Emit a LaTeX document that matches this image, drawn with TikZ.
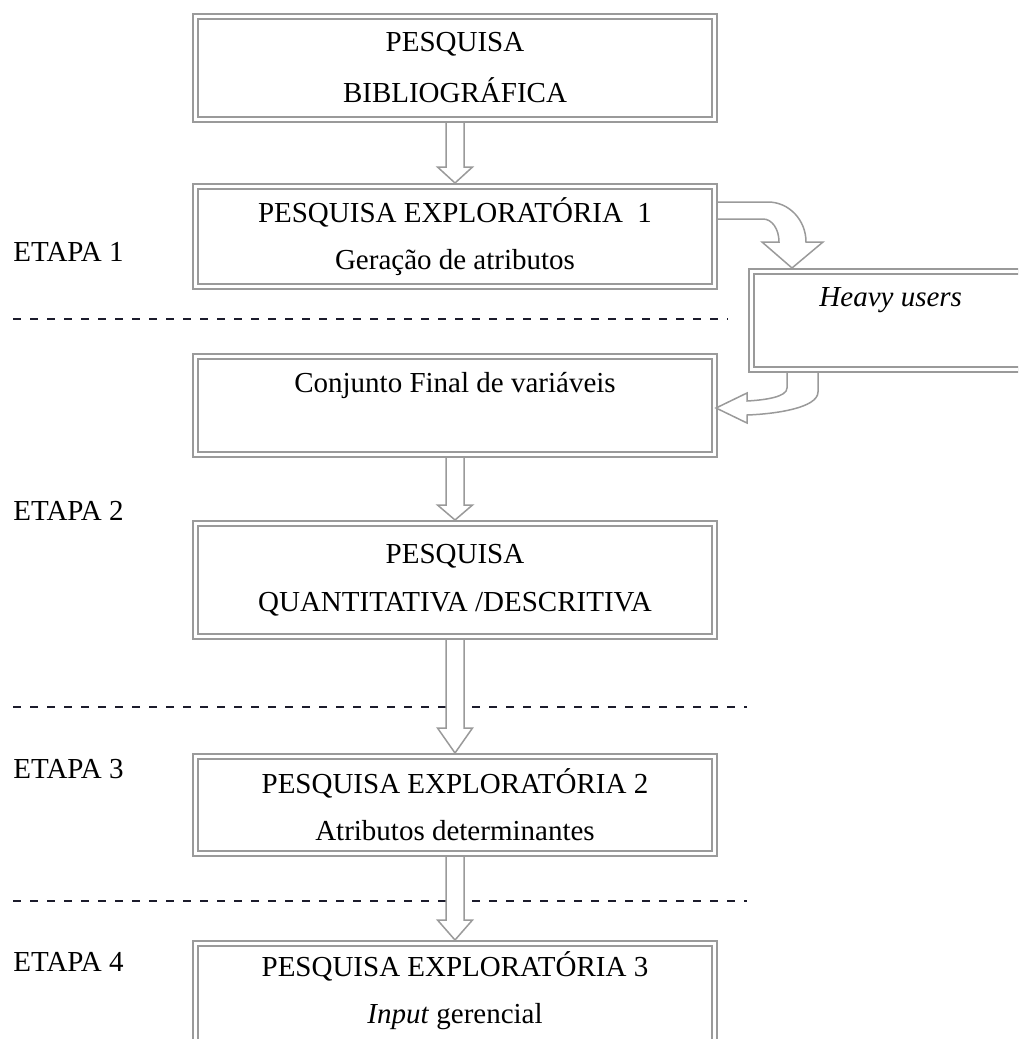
\documentclass[tikz,border=0pt]{standalone}
\usepackage{fontspec}
\setmainfont{Liberation Serif}
\usetikzlibrary{calc}
\definecolor{boxgray}{HTML}{9A9A9A}
\definecolor{dashc}{HTML}{1C1C2C}
\newcommand{\blockdown}[3]{%
  \draw[blockarrow] let \p1=($(#1.south)+(0,3.5)$), \p2=($(#2.north)+(0,-3.5)$) in
  (\x1-4.5pt,\y1) -- (\x1-4.5pt,\y2+#3) -- (\x1-8.75pt,\y2+#3) -- (\x1,\y2)
  -- (\x1+8.75pt,\y2+#3) -- (\x1+4.5pt,\y2+#3) -- (\x1+4.5pt,\y1);}
\begin{document}
\begin{tikzpicture}[x=0.5pt,y=-0.5pt,
  box/.style={draw=boxgray, double=white, line width=1pt, double distance=1.5pt,
    minimum width=259.5pt, inner sep=0pt, outer sep=0pt, align=center,
    font=\fontsize{14.5}{23.5}\selectfont},
  txt/.style={align=center, inner sep=0pt, font=\fontsize{14.5}{23.5}\selectfont},
  blockarrow/.style={draw=boxgray, fill=white, line width=0.75pt, line join=miter},
  sepline/.style={dashc, line width=1.35pt, dash pattern=on 4pt off 4.5pt},
  etapa/.style={anchor=base west, inner sep=0pt, font=\fontsize{14.5}{17}\selectfont}]
\useasboundingbox (0,0) rectangle (1018,1039);
\clip (0,0) rectangle (1018,1039);

% boxes
\node[box, minimum height=51.5pt, font=\fontsize{14.5}{25.5}\selectfont] (b1) at (455,68) {PESQUISA\\BIBLIOGRÁFICA};
\node[box, minimum height=50pt] (b2) at (455,236.5) {PESQUISA EXPLORATÓRIA\ \ 1\\Geração de atributos};
\node[box, minimum height=49pt] (b3) at (455,405.5) {Conjunto Final de variáveis\\~};
\node[box, minimum height=56.5pt, font=\fontsize{14.5}{24}\selectfont] (b4) at (455,580) {PESQUISA\\QUANTITATIVA /DESCRITIVA};
\node[box, minimum height=48.5pt] (b5) at (455,805) {PESQUISA EXPLORATÓRIA 2\\Atributos determinantes};
\node[box, minimum height=56pt] (b6) at (455,999.5) {};
\node[txt] (b6t) at (455,990.3) {PESQUISA EXPLORATÓRIA 3\\\textit{Input} gerencial};
\node[box, minimum width=139.25pt, minimum height=49pt] (hv) at (890.75,320.5) {\textit{Heavy users}\\~};

% stage labels
\node[etapa] (e1) at (13,261) {ETAPA 1};
\node[etapa] (e2) at (13,520) {ETAPA 2};
\node[etapa] (e3) at (13,778) {ETAPA 3};
\node[etapa] (e4) at (13,971) {ETAPA 4};

% separators
\draw[sepline] (13,319) -- (728,319);
\draw[sepline] (13,707) -- (747,707);
\draw[sepline] (13,901) -- (747,901);

% straight block arrows
\blockdown{b1}{b2}{8pt}
\blockdown{b3}{b4}{7.5pt}
\blockdown{b4}{b5}{12.5pt}
\blockdown{b5}{b6}{10pt}

% curved block arrows
\draw[blockarrow, shift={(b2.north east)}]
  (3.5,15.5) -- (53.5,15.5) .. controls (74.5,15.5) and (91.5,33.5) .. (91.5,55.5)
  -- (108.5,55.5) -- (77.5,81.5) -- (47.5,55.5) -- (64.5,55.5)
  .. controls (64.5,42.5) and (57.5,32.5) .. (48.5,32.5) -- (3.5,32.5);
\draw[blockarrow, shift={(hv.south west)}]
  (35.5,3.5) -- (35.5,18.5) .. controls (35.5,27.5) and (13.5,30.5) .. (-4.5,31.5)
  -- (-4.5,23.5) -- (-35.5,38.5) -- (-4.5,53.5) -- (-4.5,45.5)
  .. controls (23.5,44.5) and (66.5,38.5) .. (66.5,22.5) -- (66.5,3.5);
\end{tikzpicture}
\end{document}
